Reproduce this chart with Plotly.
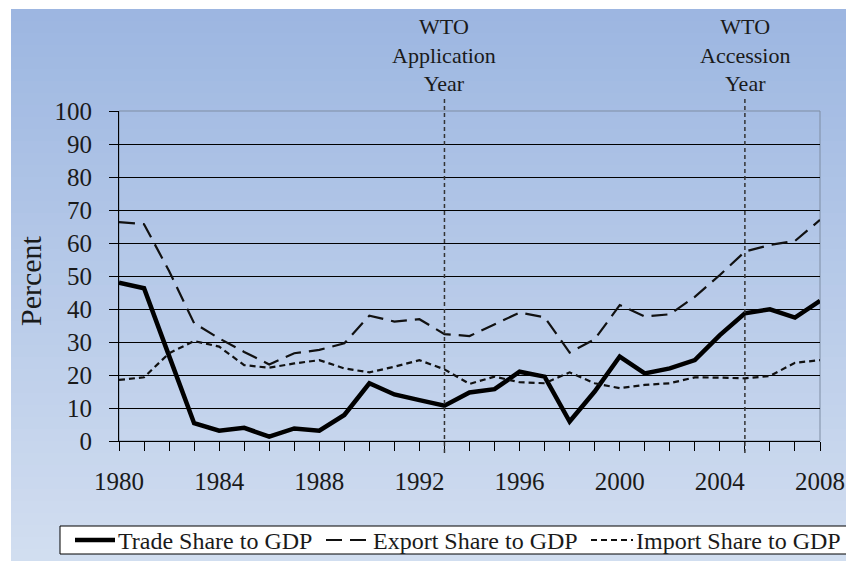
import plotly.graph_objects as go

years = list(range(1980, 2009))
trade_share = [48, 46.3, 25.8, 5.4, 3.1, 4.0, 1.3, 3.8, 3.1, 7.9, 17.5, 14.1, 12.4, 10.7,
               14.7, 15.7, 21.0, 19.5, 5.9, 15.0, 25.6, 20.5, 22.0, 24.5, 32.1, 38.7, 39.9, 37.4, 42.5]
export_share = [66.3, 65.7, 51.5, 35.7, 31.1, 27.0, 23.2, 26.6, 27.6, 29.6, 38.0, 36.2, 36.9, 32.4,
                31.8, 35.4, 38.9, 37.5, 26.8, 30.8, 41.2, 37.7, 38.4, 43.7, 50.3, 57.4, 59.4, 60.6, 67.0]
import_share = [18.5, 19.3, 26.6, 30.3, 28.6, 23.0, 22.2, 23.5, 24.5, 22.0, 20.8, 22.5, 24.5, 21.7,
                17.3, 19.5, 17.8, 17.5, 20.8, 17.5, 16.0, 17.0, 17.5, 19.3, 19.2, 19.0, 19.7, 23.7, 24.5]
series_names = ["Trade Share to GDP", "Export Share to GDP", "Import Share to GDP"]
events = [1993, 2005]
event_labels = ["WTO<br>Application<br>Year", "WTO<br>Accession<br>Year"]
x_tick_vals = list(range(1980, 2009, 4))

# page is offset by the 8px body margin
OFF = 8
PAGE_W, PAGE_H = 854, 561
W, H = PAGE_W - OFF, PAGE_H - OFF
L, R, T, B = 119, 820, 111, 441          # plot area in page pixels
FONT = "Liberation Serif"
TXT = "#1a1a1a"

line_styles = [dict(color="black", width=4.5),
               dict(color="#111", width=2.2, dash="16px,8px"),
               dict(color="#111", width=2.2, dash="6px,4px")]


def px_x(p):
    return (p - L) / (R - L)


def px_y(p):
    return (B - p) / (B - T)


fig = go.Figure()
for name, vals, ls in zip(series_names, [trade_share, export_share, import_share], line_styles):
    fig.add_trace(go.Scatter(x=years, y=vals, mode="lines", name=name, line=ls, showlegend=False))

shapes = []
# background gradient
top_c = (156, 182, 225)
bot_c = (210, 222, 240)
y0, y1 = 9, 561
n = 46
for i in range(n):
    a = y0 + (y1 - y0) * i / n
    b = y0 + (y1 - y0) * (i + 1) / n
    t = (i + 0.5) / n
    c = tuple(int(round(top_c[k] + (bot_c[k] - top_c[k]) * t)) for k in range(3))
    shapes.append(dict(type="rect", xref="paper", yref="paper",
                       x0=px_x(11), x1=px_x(860), y0=px_y(b + 0.5), y1=px_y(a),
                       fillcolor="rgb(%d,%d,%d)" % c, line=dict(width=0), layer="below"))
# plot area border
shapes.append(dict(type="rect", xref="paper", yref="paper", x0=0, x1=1, y0=0, y1=1,
                   line=dict(color="#7f8da3", width=1), fillcolor="rgba(0,0,0,0)", layer="below"))
# event lines
for ev in events:
    shapes.append(dict(type="line", xref="x", yref="paper", x0=ev, x1=ev,
                       y0=px_y(453), y1=px_y(97),
                       line=dict(color="#333", width=1.5, dash="4px,3px"), layer="above"))

annotations = []
for ev, lab in zip(events, event_labels):
    annotations.append(dict(x=ev, xref="x", y=px_y(98), yref="paper", text=lab, showarrow=False,
                            xanchor="center", yanchor="bottom",
                            font=dict(family=FONT, size=22, color=TXT)))
annotations.append(dict(x=px_x(30), y=px_y(281), xref="paper", yref="paper", text="Percent",
                        textangle=-90, showarrow=False, xanchor="center", yanchor="middle",
                        font=dict(family=FONT, size=30, color=TXT)))

# legend box (drawn by hand to match the compact boxed key)
shapes.append(dict(type="rect", xref="paper", yref="paper",
                   x0=px_x(60), x1=px_x(849), y0=px_y(554), y1=px_y(526),
                   fillcolor="white", line=dict(color="black", width=1), layer="above"))
leg_y = 540
leg_samples = [(75, 115), (326, 370), (591, 633)]
for (sx0, sx1), name, ls in zip(leg_samples, series_names, line_styles):
    shapes.append(dict(type="line", xref="paper", yref="paper",
                       x0=px_x(sx0), x1=px_x(sx1), y0=px_y(leg_y), y1=px_y(leg_y),
                       line=ls, layer="above"))
    annotations.append(dict(x=px_x(sx1 + 1), y=px_y(leg_y + 1), xref="paper", yref="paper",
                            text=name, showarrow=False, xanchor="left", yanchor="middle",
                            font=dict(family=FONT, size=24, color=TXT)))

fig.update_layout(
    width=W, height=H,
    margin=dict(l=L - OFF, r=PAGE_W - R, t=T - OFF, b=PAGE_H - B, autoexpand=False),
    paper_bgcolor="white",
    plot_bgcolor="rgba(0,0,0,0)",
    font=dict(family=FONT, color=TXT),
    shapes=shapes,
    annotations=annotations,
    showlegend=False,
    xaxis=dict(range=[1980, 2008], tickvals=x_tick_vals, ticktext=[str(v) for v in x_tick_vals],
               ticks="outside", ticklen=9, tickcolor="black", tickwidth=1,
               minor=dict(dtick=1, tick0=1980, ticks="outside", ticklen=9, tickcolor="black", showgrid=False),
               showgrid=False, zeroline=False, showline=True, linecolor="black", linewidth=1,
               tickfont=dict(family=FONT, size=25, color=TXT), ticklabelstandoff=9),
    yaxis=dict(range=[0, 100], dtick=10, tick0=0, ticks="outside", ticklen=9, tickcolor="black",
               showgrid=True, gridcolor="black", gridwidth=1, zeroline=False,
               showline=True, linecolor="black", linewidth=1,
               tickfont=dict(family=FONT, size=25, color=TXT), ticklabelstandoff=12),
)

fig.write_html("out.html")
